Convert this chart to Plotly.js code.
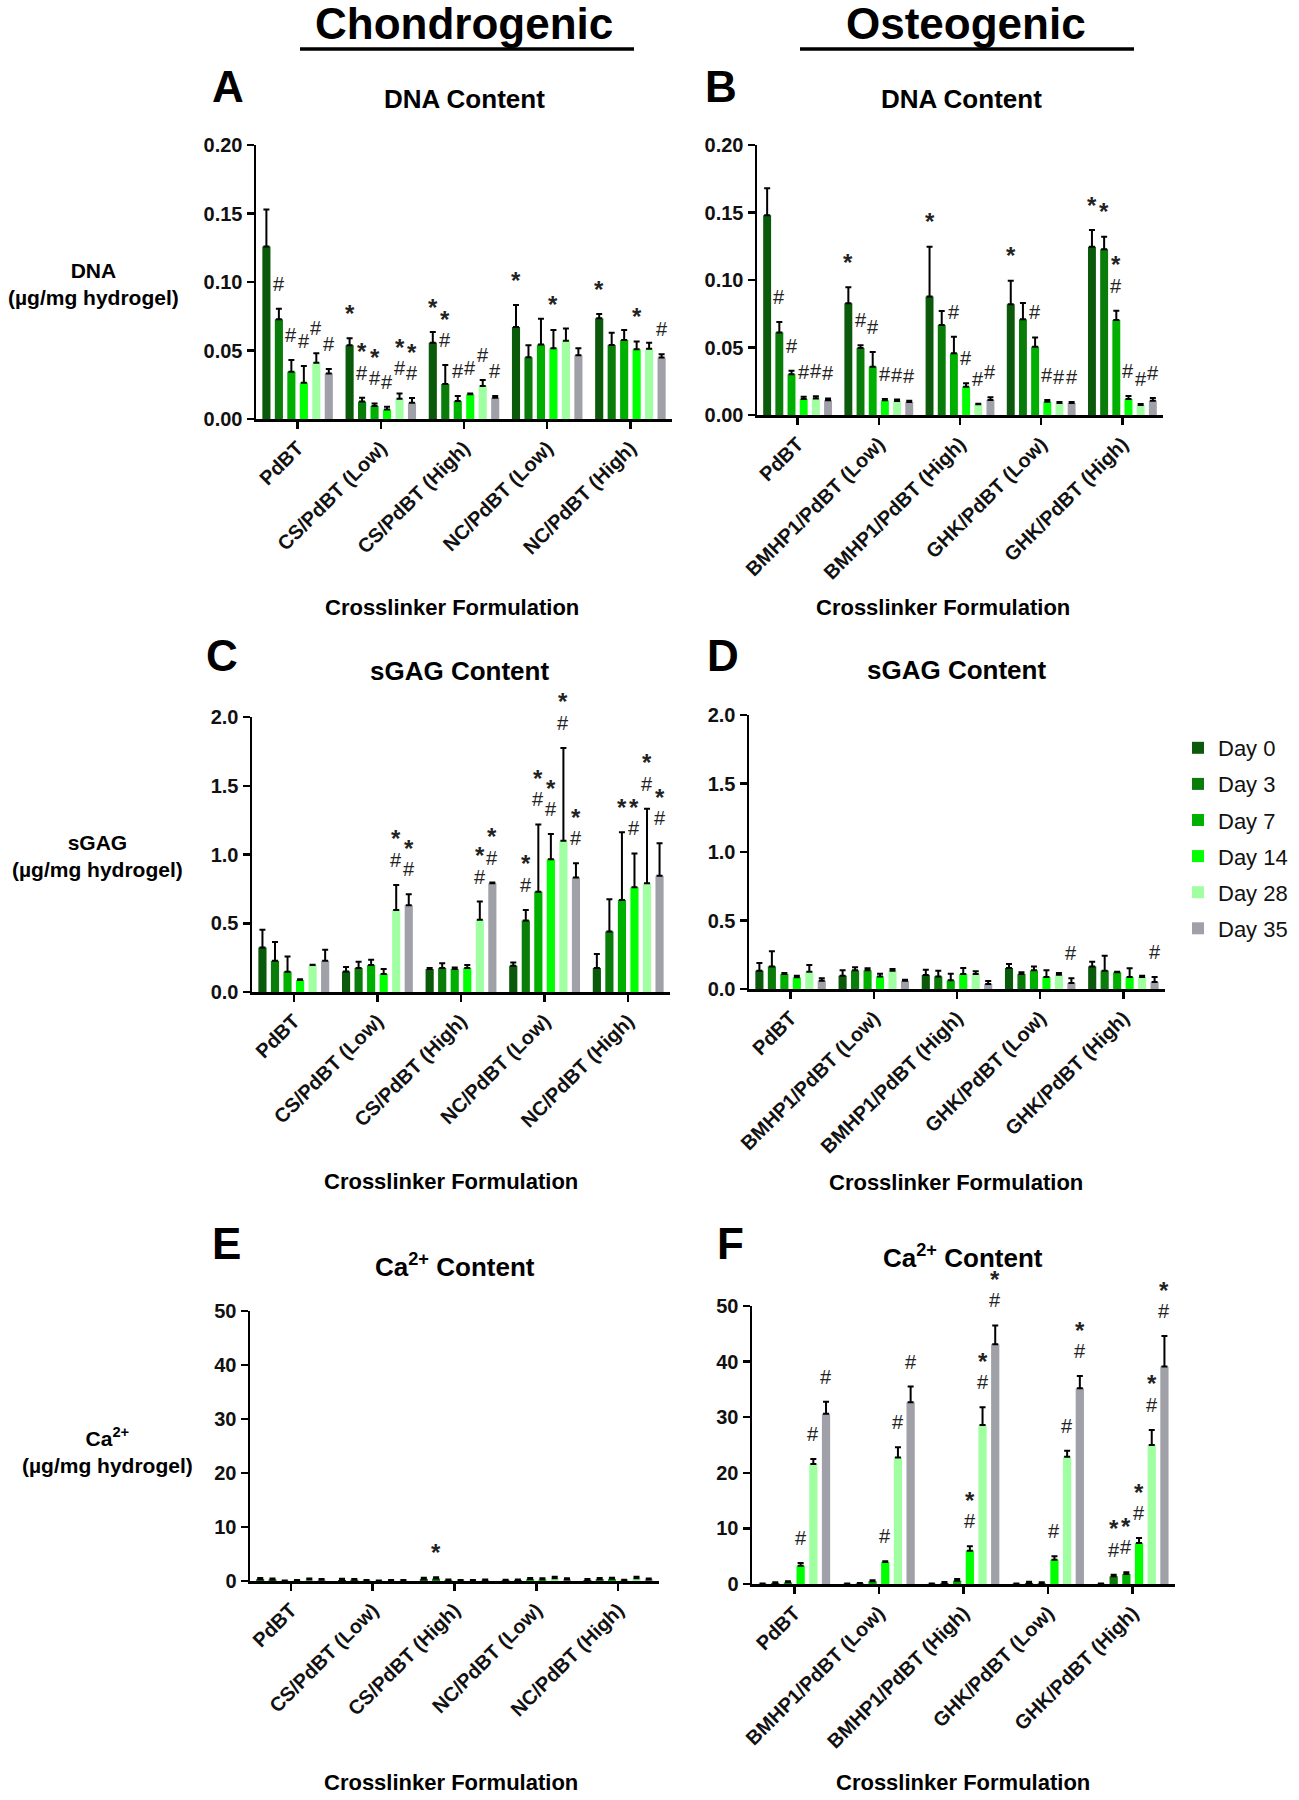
<!DOCTYPE html>
<html><head><meta charset="utf-8">
<script src="https://cdn.plot.ly/plotly-3.0.1.min.js"></script>
<style>html,body{margin:0;padding:0;background:#fff}#chart{width:1299px;height:1800px}</style>
</head><body><div id="chart"></div>
<script>
// ---------------- DATA ----------------
const days = ['Day 0', 'Day 3', 'Day 7', 'Day 14', 'Day 28', 'Day 35'];
const dayColors = ['#0b5a0b', '#0a7c0a', '#00b000', '#00ff00', '#a0ffa0', '#a0a0a8'];
const chondroGroups = ['PdBT', 'CS/PdBT (Low)', 'CS/PdBT (High)', 'NC/PdBT (Low)', 'NC/PdBT (High)'];
const osteoGroups = ['PdBT', 'BMHP1/PdBT (Low)', 'BMHP1/PdBT (High)', 'GHK/PdBT (Low)', 'GHK/PdBT (High)'];

// A: DNA content, chondrogenic (rows = days, cols = groups)
const dnaChondroMean = [
  [0.126, 0.0538, 0.0557, 0.0672, 0.0735],
  [0.0728, 0.0127, 0.0255, 0.045, 0.054],
  [0.0345, 0.0095, 0.0131, 0.0543, 0.0577],
  [0.0265, 0.007, 0.018, 0.0516, 0.0509],
  [0.041, 0.0148, 0.0241, 0.0572, 0.0513],
  [0.0333, 0.0119, 0.0156, 0.0465, 0.0448]
];
const dnaChondroErr = [
  [0.027, 0.0051, 0.0078, 0.016, 0.0031],
  [0.0077, 0.0029, 0.0139, 0.0088, 0.009],
  [0.0085, 0.0019, 0.0037, 0.0189, 0.0073],
  [0.0122, 0.002, 0.0007, 0.0134, 0.0056],
  [0.007, 0.0039, 0.0044, 0.0088, 0.0044],
  [0.0032, 0.0034, 0.0012, 0.0051, 0.0024]
];
const dnaChondroSig = [
  ['', '*', '*', '*', '*'],
  ['#', '*#', '*#', '', ''],
  ['#', '*#', '#', '', ''],
  ['#', '#', '#', '*', '*'],
  ['#', '*#', '#', '', ''],
  ['#', '*#', '#', '', '#']
];

// B: DNA content, osteogenic
const dnaOsteoMean = [
  [0.148, 0.0827, 0.0877, 0.082, 0.1247],
  [0.0612, 0.0496, 0.0667, 0.0709, 0.1227],
  [0.0301, 0.0358, 0.0457, 0.0506, 0.0704],
  [0.0119, 0.0109, 0.021, 0.0099, 0.0119],
  [0.0123, 0.0104, 0.0079, 0.0089, 0.0074],
  [0.0109, 0.0096, 0.0111, 0.0089, 0.0106]
];
const dnaOsteoErr = [
  [0.020, 0.0119, 0.037, 0.0175, 0.0123],
  [0.0077, 0.002, 0.0103, 0.0121, 0.0093],
  [0.0027, 0.0109, 0.0123, 0.0069, 0.0069],
  [0.0017, 0.001, 0.0025, 0.0012, 0.0022],
  [0.0015, 0.001, 0.0005, 0.0007, 0.0007],
  [0.0014, 0.001, 0.002, 0.0007, 0.002]
];
const dnaOsteoSig = [
  ['', '*', '*', '*', '*'],
  ['#', '#', '', '', '*'],
  ['#', '#', '#', '#', '*#'],
  ['#', '#', '#', '#', '#'],
  ['#', '#', '#', '#', '#'],
  ['#', '#', '#', '#', '#']
];

// C: sGAG content, chondrogenic
const gagChondroMean = [
  [0.324, 0.150, 0.167, 0.191, 0.174],
  [0.227, 0.174, 0.174, 0.520, 0.440],
  [0.148, 0.196, 0.167, 0.730, 0.670],
  [0.087, 0.131, 0.174, 0.965, 0.762],
  [0.196, 0.597, 0.525, 1.100, 0.791],
  [0.227, 0.631, 0.791, 0.832, 0.846]
];
const gagChondroErr = [
  [0.128, 0.031, 0.007, 0.024, 0.102],
  [0.136, 0.046, 0.036, 0.077, 0.235],
  [0.111, 0.039, 0.012, 0.489, 0.491],
  [0.005, 0.036, 0.022, 0.184, 0.246],
  [0.003, 0.182, 0.133, 0.675, 0.541],
  [0.080, 0.080, 0.005, 0.104, 0.235]
];
const gagChondroSig = [
  ['', '', '', '', ''],
  ['', '', '', '*#', ''],
  ['', '', '', '*#', '*'],
  ['', '', '', '*#', '*#'],
  ['', '*#', '*#', '*#', '*#'],
  ['', '*#', '*#', '*#', '*#']
];

// D: sGAG content, osteogenic
const gagOsteoMean = [
  [0.134, 0.097, 0.102, 0.153, 0.165],
  [0.165, 0.136, 0.092, 0.109, 0.134],
  [0.109, 0.136, 0.063, 0.136, 0.122],
  [0.085, 0.092, 0.109, 0.087, 0.087],
  [0.126, 0.134, 0.109, 0.104, 0.087],
  [0.061, 0.061, 0.036, 0.044, 0.051]
];
const gagOsteoErr = [
  [0.056, 0.039, 0.039, 0.029, 0.034],
  [0.110, 0.022, 0.042, 0.013, 0.109],
  [0.008, 0.015, 0.049, 0.029, 0.004],
  [0.012, 0.020, 0.044, 0.049, 0.064],
  [0.049, 0.012, 0.020, 0.013, 0.010],
  [0.017, 0.007, 0.022, 0.034, 0.036]
];
const gagOsteoSig = [
  ['', '', '', '', ''],
  ['', '', '', '', ''],
  ['', '', '', '', ''],
  ['', '', '', '', ''],
  ['', '', '', '', ''],
  ['', '', '', '#', '#']
];

// E: Ca2+ content, chondrogenic
const caChondroMean = [
  [0.35, 0.2, 0.4, 0.15, 0.2],
  [0.3, 0.25, 0.45, 0.2, 0.35],
  [0.05, 0.1, 0.2, 0.35, 0.4],
  [0.1, 0.05, 0.1, 0.3, 0.15],
  [0.3, 0.1, 0.1, 0.5, 0.5],
  [0.25, 0.1, 0.2, 0.3, 0.3]
];
const caChondroErr = [
  [0.2, 0.2, 0.2, 0.1, 0.15],
  [0.15, 0.1, 0.25, 0.1, 0.2],
  [0.05, 0.1, 0.1, 0.2, 0.2],
  [0.1, 0.05, 0.1, 0.2, 0.1],
  [0.15, 0.1, 0.1, 0.3, 0.3],
  [0.1, 0.1, 0.1, 0.2, 0.15]
];
const caChondroSig = [
  ['', '', '', '', ''],
  ['', '', '*', '', ''],
  ['', '', '', '', ''],
  ['', '', '', '', ''],
  ['', '', '', '', ''],
  ['', '', '', '', '']
];

// F: Ca2+ content, osteogenic
const caOsteoMean = [
  [0.05, 0.05, 0.05, 0.05, 0.05],
  [0.2, 0.1, 0.2, 0.2, 1.38],
  [0.3, 0.5, 0.6, 0.15, 1.8],
  [3.29, 3.95, 6.0, 4.37, 7.37],
  [21.6, 22.75, 28.6, 22.9, 25.0],
  [30.6, 32.7, 43.1, 35.2, 39.1]
];
const caOsteoErr = [
  [0.05, 0.05, 0.05, 0.05, 0.05],
  [0.1, 0.1, 0.15, 0.2, 0.3],
  [0.2, 0.16, 0.3, 0.15, 0.3],
  [0.48, 0.12, 0.77, 0.6, 0.89],
  [0.9, 1.85, 3.2, 1.05, 2.7],
  [2.2, 2.8, 3.4, 2.2, 5.5]
];
const caOsteoSig = [
  ['', '', '', '', ''],
  ['', '', '', '', '*#'],
  ['', '', '', '', '*#'],
  ['#', '#', '*#', '#', '*#'],
  ['#', '#', '*#', '#', '*#'],
  ['#', '#', '*#', '*#', '*#']
];

// ---------------- LAYOUT ----------------
const W = 1299, H = 1800;
const px = v => v / W, py = v => 1 - v / H;
const FONT = 'Arial, "Liberation Sans", Helvetica, sans-serif';
const BARGAP = 0.1;

const panels = [
  {mean: dnaChondroMean, err: dnaChondroErr, sig: dnaChondroSig, cats: chondroGroups, ymax: 0.2, dtick: 0.05, fmt: '.2f', box: [256, 672, 145, 419]},
  {mean: dnaOsteoMean, err: dnaOsteoErr, sig: dnaOsteoSig, cats: osteoGroups, ymax: 0.2, dtick: 0.05, fmt: '.2f', box: [757, 1163, 145, 415]},
  {mean: gagChondroMean, err: gagChondroErr, sig: gagChondroSig, cats: chondroGroups, ymax: 2.0, dtick: 0.5, fmt: '.1f', box: [252, 670, 717, 992]},
  {mean: gagOsteoMean, err: gagOsteoErr, sig: gagOsteoSig, cats: osteoGroups, ymax: 2.0, dtick: 0.5, fmt: '.1f', box: [749, 1165, 715, 989]},
  {mean: caChondroMean, err: caChondroErr, sig: caChondroSig, cats: chondroGroups, ymax: 50, dtick: 10, fmt: 'd', box: [250, 659, 1311, 1581]},
  {mean: caOsteoMean, err: caOsteoErr, sig: caOsteoSig, cats: osteoGroups, ymax: 50, dtick: 10, fmt: 'd', box: [752, 1175, 1306, 1584]}
];

const traces = [];
const annotations = [];
const layout = {
  width: W, height: H,
  margin: {l: 0, r: 0, t: 0, b: 0},
  paper_bgcolor: '#fff', plot_bgcolor: '#fff',
  barmode: 'group', bargap: BARGAP, bargroupgap: 0.35,
  font: {family: FONT, color: '#000'},
  showlegend: true,
  legend: {
    x: px(1178), y: py(727), xanchor: 'left', yanchor: 'top',
    font: {family: FONT, size: 22, color: '#111'},
    bgcolor: 'rgba(0,0,0,0)', tracegroupgap: 4.5, traceorder: 'grouped'
  },
  annotations: annotations,
  shapes: [
    {type: 'line', xref: 'paper', yref: 'paper', x0: px(300), x1: px(634), y0: py(49), y1: py(49), line: {color: '#000', width: 3.5}},
    {type: 'line', xref: 'paper', yref: 'paper', x0: px(800), x1: px(1134), y0: py(49), y1: py(49), line: {color: '#000', width: 3.5}}
  ]
};

const slot = (1 - BARGAP) / days.length;
const offsetOf = d => -(1 - BARGAP) / 2 + slot * (d + 0.5);

panels.forEach((p, i) => {
  const n = i === 0 ? '' : String(i + 1);
  const xa = 'x' + n, ya = 'y' + n;
  const [x0, x1, yTop, yBot] = p.box;
  layout['xaxis' + n] = {
    domain: [px(x0), px(x1)], anchor: ya, type: 'category', range: [-0.5, 4.5],
    showline: true, linecolor: '#000', linewidth: 2.5, mirror: false,
    ticks: 'outside', ticklen: 7, tickwidth: 2.5, tickcolor: '#000',
    tickangle: -45, tickfont: {family: FONT, size: 20, weight: 'bold', color: '#111'},
    showgrid: false, zeroline: false, automargin: false, fixedrange: true
  };
  layout['yaxis' + n] = {
    domain: [py(yBot), py(yTop)], anchor: xa, range: [0, p.ymax],
    dtick: p.dtick, tick0: 0, tickformat: p.fmt,
    showline: true, linecolor: '#000', linewidth: 2.5,
    ticks: 'outside', ticklen: 7, tickwidth: 2.5, tickcolor: '#000',
    tickfont: {family: FONT, size: 20, weight: 'bold', color: '#111'},
    showgrid: false, zeroline: false, automargin: false, fixedrange: true
  };
  days.forEach((day, d) => {
    traces.push({
      type: 'bar', name: day, legendgroup: day, showlegend: i === 0,
      x: p.cats, y: p.mean[d], xaxis: xa, yaxis: ya,
      marker: {color: dayColors[d], line: {width: 0}},
      error_y: {type: 'data', symmetric: false, array: p.err[d], arrayminus: p.mean[d].map(() => 0),
                color: '#000', thickness: 2, width: 3},
      hoverinfo: 'x+y+name'
    });
    p.sig[d].forEach((s, g) => {
      if (!s) return;
      const x = g + offsetOf(d);
      const y = p.mean[d][g] + p.err[d][g];
      const hasHash = s.includes('#'), hasStar = s.includes('*');
      if (hasHash) annotations.push({xref: xa, yref: ya, x: x, y: y, text: '#', showarrow: false,
        xanchor: 'center', yanchor: 'middle', yshift: 25, font: {family: FONT, size: 20, color: '#222'}});
      if (hasStar) annotations.push({xref: xa, yref: ya, x: x, y: y, text: '*', showarrow: false,
        xanchor: 'center', yanchor: 'middle', yshift: hasHash ? 46 : 25,
        font: {family: FONT, size: 24, weight: 'bold', color: '#222'}});
    });
  });
});

function txt(text, x, y, size, weight, extra) {
  annotations.push(Object.assign({xref: 'paper', yref: 'paper', x: px(x), y: py(y), text: text, showarrow: false,
    xanchor: 'center', yanchor: 'middle', font: {family: FONT, size: size, weight: weight, color: '#000'}}, extra || {}));
}
// column headers
txt('Chondrogenic', 464, 24, 44, 'bold');
txt('Osteogenic', 966, 24, 44, 'bold');
// panel letters
[['A', 228, 86], ['B', 721, 86], ['C', 222, 655], ['D', 723, 655], ['E', 227, 1243], ['F', 730, 1243]]
  .forEach(([t, x, y]) => txt(t, x, y, 44, 'bold'));
// panel titles
[['DNA Content', 464, 99], ['DNA Content', 961, 99], ['sGAG Content', 459, 671], ['sGAG Content', 956, 670],
 ['Ca<sup>2+</sup> Content', 455, 1265], ['Ca<sup>2+</sup> Content', 963, 1256]]
  .forEach(([t, x, y]) => txt(t, x, y, 26, 'bold'));
// y-axis titles
txt('DNA<br>(µg/mg hydrogel)', 93, 284, 21, 'bold');
txt('sGAG<br>(µg/mg hydrogel)', 97, 856, 21, 'bold');
txt('Ca<sup>2+</sup><br>(µg/mg hydrogel)', 107, 1450, 21, 'bold');
// x-axis titles
[[452, 607], [943, 607], [451, 1181], [956, 1182], [451, 1782], [963, 1782]]
  .forEach(([x, y]) => txt('Crosslinker Formulation', x, y, 22, 'bold'));

Plotly.newPlot('chart', traces, layout, {staticPlot: true, displayModeBar: false});
</script>
</body></html>
